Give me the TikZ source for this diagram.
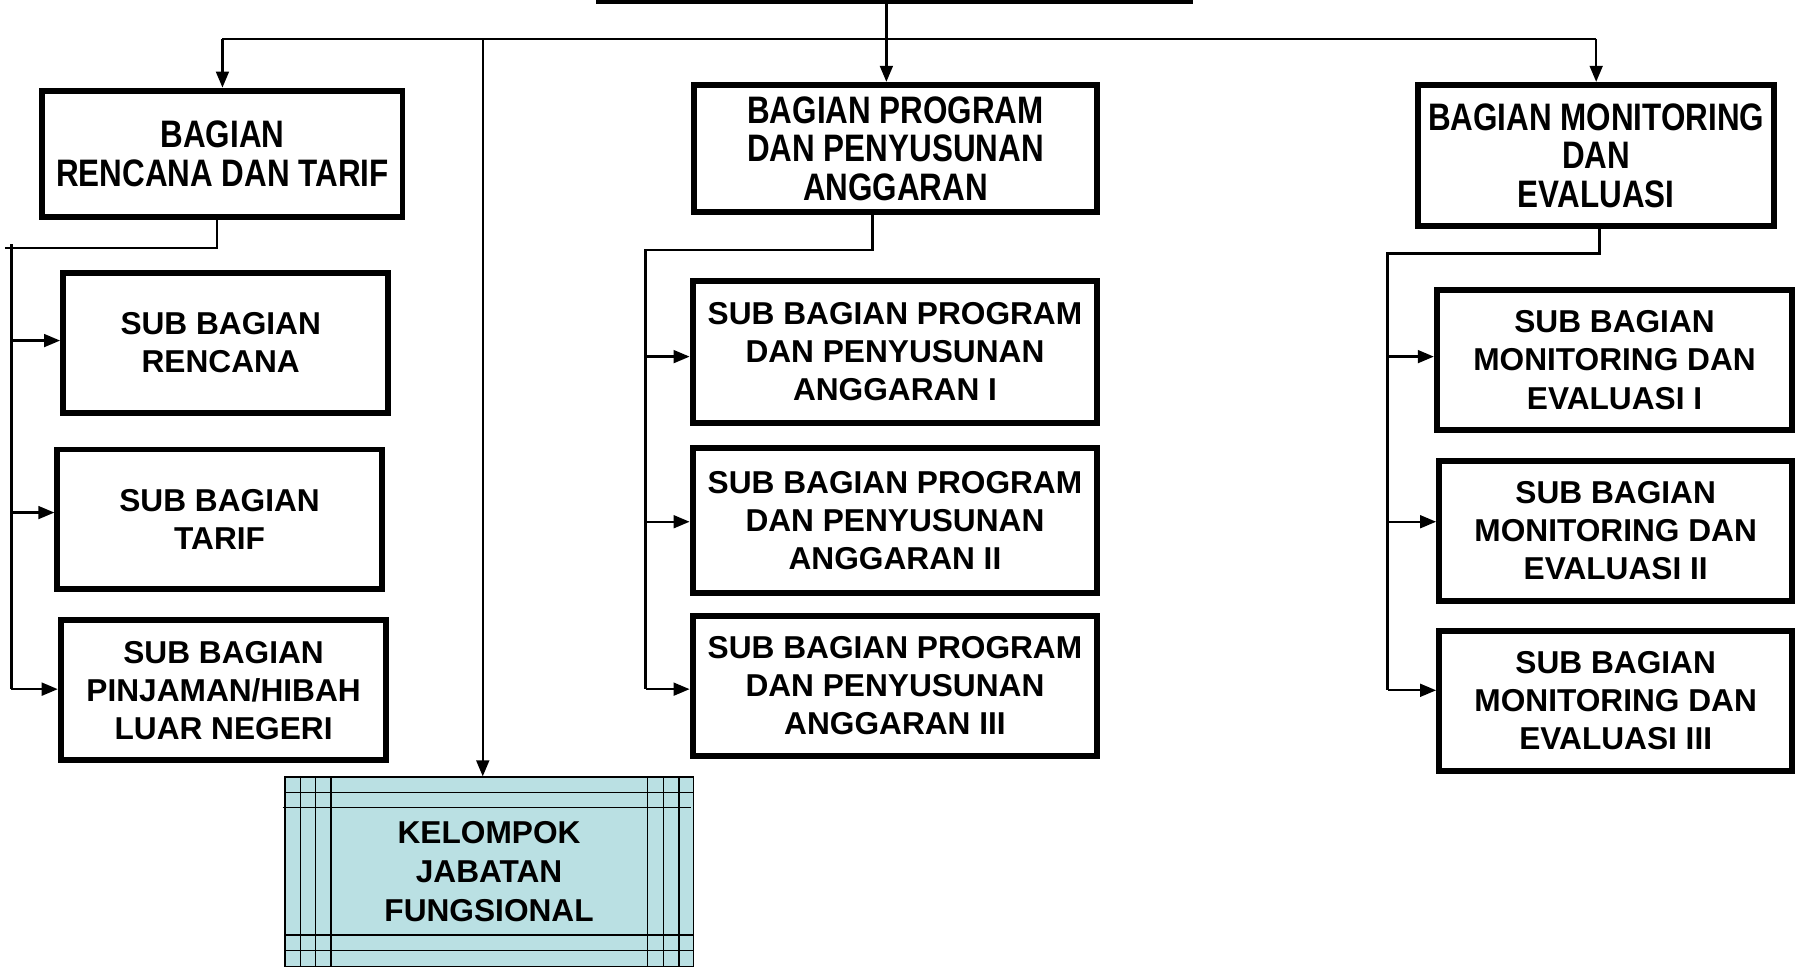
\documentclass[tikz,border=0pt]{standalone}
\usepackage{fontspec}
\setmainfont{Liberation Sans}
\newfontfamily\narrowfont[FakeStretch=0.82]{Liberation Sans}
\usetikzlibrary{arrows.meta}
\definecolor{kjf}{RGB}{186,224,227}
\begin{document}
\begin{tikzpicture}[x=0.5pt,y=-0.5pt,
  box/.style={draw, line width=2.6pt, align=center, inner sep=0pt,
    font=\fontsize{13.8}{16.6}\selectfont\bfseries},
  bag/.style={box, font=\narrowfont\fontsize{16.7}{16.8}\selectfont\bfseries},
  wh/.style 2 args={minimum width=#1*0.5pt, minimum height=#2*0.5pt},
  conn/.style={line width=1pt},
  arr/.style={conn, -{Triangle[length=7pt,width=5.6pt]}},
  grid/.style={line width=0.55pt}]
\useasboundingbox (0,0) rectangle (1568,844);

% top (cut-off) box edge
\draw[line width=2.2pt] (520,1) -- (1040,1);
\coordinate (top) at (773,2);

% Bagian boxes
\node[bag, wh={314}{110}] (B1) at (194,134) {BAGIAN\\RENCANA DAN TARIF};
\node[bag, wh={352}{111}] (B2) at (781,129.5) {BAGIAN PROGRAM\\DAN PENYUSUNAN\\ANGGARAN};
\node[bag, wh={310}{123}] (B3) at (1392,135.5) {BAGIAN MONITORING\\DAN\\EVALUASI};

% Sub boxes left
\node[box, wh={283}{122}] (L1) at (196.5,299) {\hspace*{-4pt}SUB BAGIAN\\\hspace*{-4pt}RENCANA};
\node[box, wh={283}{122}] (L2) at (191.5,453) {SUB BAGIAN\\TARIF};
\node[box, wh={284}{122}] (L3) at (195,602) {SUB BAGIAN\\PINJAMAN/HIBAH\\LUAR NEGERI};

% Sub boxes middle
\node[box, wh={353}{124}] (M1) at (780.5,307) {SUB BAGIAN PROGRAM\\DAN PENYUSUNAN\\ANGGARAN I};
\node[box, wh={353}{126}] (M2) at (780.5,454) {SUB BAGIAN PROGRAM\\DAN PENYUSUNAN\\ANGGARAN II};
\node[box, wh={353}{122}] (M3) at (780.5,598) {SUB BAGIAN PROGRAM\\DAN PENYUSUNAN\\ANGGARAN III};

% Sub boxes right
\node[box, wh={310}{122}] (R1) at (1408,314) {SUB BAGIAN\\MONITORING DAN\\EVALUASI I};
\node[box, wh={308}{122}] (R2) at (1409,463) {SUB BAGIAN\\MONITORING DAN\\EVALUASI II};
\node[box, wh={308}{122}] (R3) at (1409,611) {SUB BAGIAN\\MONITORING DAN\\EVALUASI III};

% Kelompok Jabatan Fungsional
\node[draw, line width=0.55pt, fill=kjf, inner sep=0pt, wh={356}{165.4}, align=center,
  font=\fontsize{13.8}{17}\selectfont\bfseries] (KJF) at (426.5,760.3) {KELOMPOK\\JABATAN\\FUNGSIONAL};
\foreach \gx in {262.2,275.3,288.7,564.8,578.5,592.1}
  \draw[grid] (\gx,677.6) -- (\gx,843);
\foreach \gy in {691,815.4,829.1}
  \draw[grid] (248.5,\gy) -- (604.6,\gy);
\draw[grid] (246.5,704.4) -- (602.3,704.4);

% main bus
\coordinate (bus) at (0,34);
\coordinate (kv) at (421,34);
\draw[conn] (bus -| B1.north) -- (bus -| B3.north);
\draw[arr] (top) -- (top |- B2.north);
\draw[arr] (bus -| B1.north) -- (B1.north);
\draw[arr] (bus -| B3.north) -- (B3.north);
\draw[arr] (kv) -- (kv |- KJF.north);

% left column
\coordinate (lj) at (189,216);
\coordinate (lv) at (10,216);
\draw[conn] (B1.south -| lj) -- (lj) -- (4,216);
\draw[conn] (10,213) -- (10,601);
\draw[arr] (lv |- 0,297) -- (L1.west |- 0,297);
\draw[arr] (lv |- 0,447) -- (L2.west |- 0,447);
\draw[arr] (lv |- 0,601) -- (L3.west |- 0,601);

% middle column
\coordinate (mj) at (761,218);
\coordinate (mv) at (563,218);
\draw[conn] (B2.south -| mj) -- (mj) -- (mv) -- (563,601);
\draw[arr] (mv |- 0,311) -- (M1.west |- 0,311);
\draw[arr] (mv |- 0,455) -- (M2.west |- 0,455);
\draw[arr] (mv |- 0,601) -- (M3.west |- 0,601);

% right column
\coordinate (rj) at (1395,221);
\coordinate (rv) at (1210,221);
\draw[conn] (B3.south -| rj) -- (rj) -- (rv) -- (1210,602);
\draw[arr] (rv |- 0,311) -- (R1.west |- 0,311);
\draw[arr] (rv |- 0,455) -- (R2.west |- 0,455);
\draw[arr] (rv |- 0,602) -- (R3.west |- 0,602);
\end{tikzpicture}
\end{document}
